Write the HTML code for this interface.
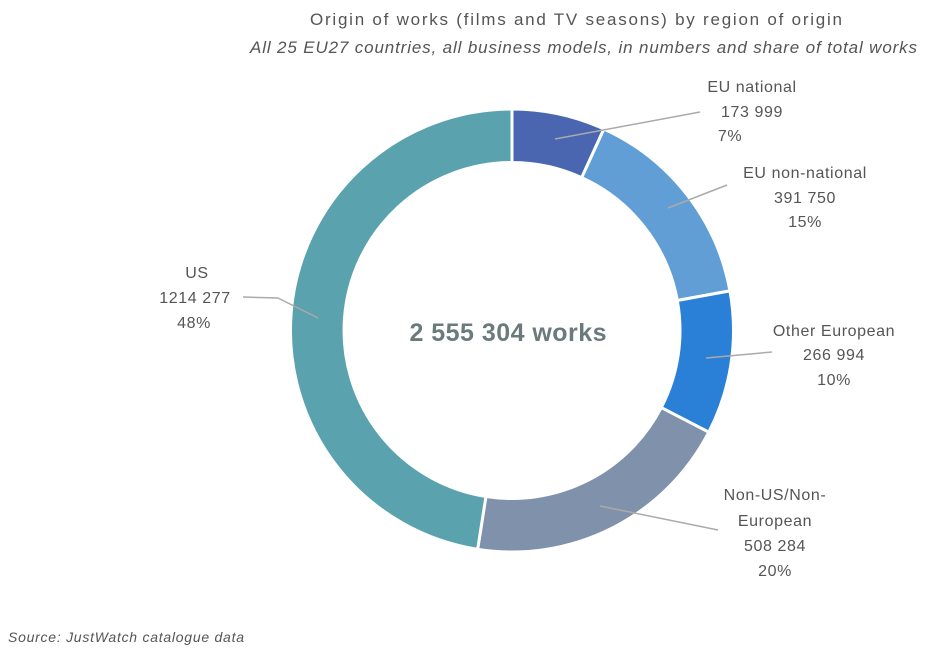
<!DOCTYPE html>
<html><head><meta charset="utf-8"><style>
body{margin:0;background:#fff;}
svg{display:block;font-family:"Liberation Sans",sans-serif;}
</style></head><body>
<svg id="s" width="928" height="652" viewBox="0 0 928 652">
<text x="310" y="25" font-size="17" fill="#555" textLength="532" lengthAdjust="spacing">Origin of works (films and TV seasons) by region of origin</text>
<text x="250" y="53" font-size="17" font-style="italic" fill="#555" textLength="667" lengthAdjust="spacing">All 25 EU27 countries, all business models, in numbers and share of total works</text>
<g id="ring"></g>
<text x="508" y="341" text-anchor="middle" font-size="25" font-weight="bold" fill="#6b7b7b" textLength="197" lengthAdjust="spacing">2 555 304 works</text>
<g stroke="#aaa" stroke-width="1.5" fill="none">
<line x1="555" y1="139" x2="700" y2="112"/>
<line x1="668" y1="208" x2="727" y2="185"/>
<line x1="706" y1="358" x2="772" y2="352"/>
<line x1="600" y1="506" x2="718" y2="530"/>
<line x1="318" y1="318" x2="278" y2="298"/><line x1="278" y1="298" x2="243" y2="297"/>
</g>
<g font-size="16" fill="#555" text-anchor="middle" letter-spacing="0.6">
<text x="752" y="92">EU national</text><text x="752" y="117">173 999</text><text x="730" y="141">7%</text>
<text x="805" y="178">EU non-national</text><text x="805" y="203">391 750</text><text x="805" y="227">15%</text>
<text x="834" y="336">Other European</text><text x="834" y="360">266 994</text><text x="834" y="385">10%</text>
<text x="775" y="500">Non-US/Non-</text><text x="775" y="526">European</text><text x="775" y="551">508 284</text><text x="775" y="576">20%</text>
<text x="197" y="278">US</text><text x="195" y="303">1214 277</text><text x="194" y="328">48%</text>
</g>
<text x="8" y="642" font-size="14" font-style="italic" fill="#555" textLength="236" lengthAdjust="spacing">Source: JustWatch catalogue data</text>
</svg>
<script>
var cx=512,cy=330.5,R=221.5,r=168;
var d=[[173999,"#4a66b0"],[391750,"#619ed6"],[266994,"#2a7fd6"],[508284,"#8091ab"],[1214277,"#5aa2ae"]];
var t=2555304,a=0,g=document.getElementById("ring"),h="";
function p(rad,ang){var q=(ang-90)*Math.PI/180;return (cx+rad*Math.cos(q)).toFixed(2)+","+(cy+rad*Math.sin(q)).toFixed(2);}
d.forEach(function(e){var s=a,en=a+e[0]/t*360;a=en;var l=(en-s)>180?1:0;
h+='<path d="M'+p(R,s)+' A'+R+','+R+' 0 '+l+' 1 '+p(R,en)+' L'+p(r,en)+' A'+r+','+r+' 0 '+l+' 0 '+p(r,s)+' Z" fill="'+e[1]+'" stroke="#fff" stroke-width="3"/>';});
g.innerHTML=h;
</script>
</body></html>
